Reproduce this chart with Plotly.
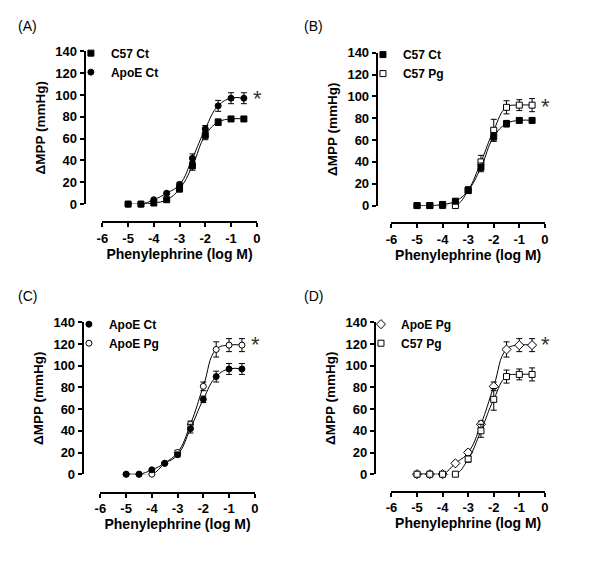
import plotly.graph_objects as go

# ---------------- data ----------------
log_conc = [-5, -4.5, -4, -3.5, -3, -2.5, -2, -1.5, -1, -0.5]

c57_ct = [0, 0, 1, 4, 14, 35, 63, 75, 78, 78]
c57_ct_err = [0, 0, 1, 1, 3, 4, 4, 3, 2, 2]

apoe_ct = [0, 0, 4, 10, 18, 42, 69, 90, 97, 97]
apoe_ct_err = [0, 0, 1, 1, 2, 4, 3, 5, 5, 5]

c57_pg = [0, 0, 0, 0, 14, 40, 69, 90, 92, 92]
c57_pg_err = [0, 0, 0, 0, 3, 6, 10, 6, 5, 6]

apoe_pg = [0, 0, 0, 10, 20, 46, 81, 115, 119, 119]
apoe_pg_err = [0, 0, 0, 1, 2, 3, 4, 7, 6, 6]

x_ticks = [-6, -5, -4, -3, -2, -1, 0]
y_ticks = [0, 20, 40, 60, 80, 100, 120, 140]

panel_labels = ["(A)", "(B)", "(C)", "(D)"]
x_title = "Phenylephrine (log M)"
y_title = "ΔMPP (mmHg)"

series = {
    "C57 Ct": (c57_ct, c57_ct_err),
    "ApoE Ct": (apoe_ct, apoe_ct_err),
    "C57 Pg": (c57_pg, c57_pg_err),
    "ApoE Pg": (apoe_pg, apoe_pg_err),
}
# (series name, marker symbol, filled?) in legend order
panel_series = [
    [("C57 Ct", "square", True), ("ApoE Ct", "circle", True)],
    [("C57 Ct", "square", True), ("C57 Pg", "square", False)],
    [("ApoE Ct", "circle", True), ("ApoE Pg", "circle", False)],
    [("ApoE Pg", "diamond", False), ("C57 Pg", "square", False)],
]
# which legend entry is drawn last (on top) in each panel
top_index = [0, 0, 0, 1]
star_y = [97, 91, 120, 120]

# ---------------- layout geometry (pixels) ----------------
W, H = 600, 562
FONT = "Arial, Liberation Sans, sans-serif"
# (y-axis line x, x-domain left, x-domain right, y=0 px, y=140 px, x-axis line y)
geom = [
    (80, 98, 255, 202.5, 45.5, 221),
    (377, 392, 548, 204, 47, 222),
    (78, 96, 253, 480, 324, 499),
    (375, 392, 548, 480, 324, 498),
]
label_pos = [(10, 20), (301, 20), (10, 297), (301, 297)]


def fx(px):
    return px / W


def fy(py):
    return 1 - py / H


fig = go.Figure()
layout = dict(
    width=W, height=H, autosize=False,
    margin=dict(l=0, r=0, t=0, b=0),
    paper_bgcolor="white", plot_bgcolor="white",
    showlegend=True, annotations=[],
)

for i, items in enumerate(panel_series):
    k = i + 1
    xa = "x" if k == 1 else f"x{k}"
    ya = "y" if k == 1 else f"y{k}"
    lg = "legend" if k == 1 else f"legend{k}"
    yl, xl, xr, y0, y140, xly = geom[i]

    order = [j for j in range(len(items)) if j != top_index[i]] + [top_index[i]]
    for j in order:
        name, sym, filled = items[j]
        vals, errs = series[name]
        fig.add_trace(go.Scatter(
            x=log_conc, y=vals, mode="lines",
            line=dict(color="black", width=1, shape="spline", smoothing=1.3),
            xaxis=xa, yaxis=ya, showlegend=False, cliponaxis=False,
            hoverinfo="skip",
        ))
        fig.add_trace(go.Scatter(
            x=log_conc, y=vals, mode="markers", name=name,
            marker=dict(symbol=sym, size=7 if sym == "diamond" else 6,
                        color="black" if filled else "white",
                        line=dict(color="black", width=1)),
            error_y=dict(type="data", array=errs, visible=True,
                         color="black", thickness=1, width=3),
            xaxis=xa, yaxis=ya, legend=lg, legendrank=1000 + j,
            cliponaxis=False,
        ))

    axis_common = dict(
        showline=True, linecolor="black", linewidth=2,
        ticks="outside", ticklen=4, tickwidth=2, tickcolor="black",
        showgrid=False, zeroline=False,
        tickfont=dict(family=FONT, size=13, color="black", weight="bold"),
        anchor="free",
    )
    layout[f"xaxis{'' if k == 1 else k}"] = dict(
        axis_common,
        domain=[fx(xl), fx(xr)], range=[-6, 0],
        tickvals=x_ticks, ticktext=[str(t) for t in x_ticks],
        position=fy(xly),
        title=dict(text=x_title, standoff=3,
                   font=dict(family=FONT, size=14, color="black", weight="bold")),
    )
    layout[f"yaxis{'' if k == 1 else k}"] = dict(
        axis_common,
        domain=[fy(y0), fy(y140)], range=[0, 140],
        tickvals=y_ticks,
        position=fx(yl),
        title=dict(text=y_title, standoff=6,
                   font=dict(family=FONT, size=13.5, color="black", weight="bold")),
    )
    layout[lg] = dict(
        x=fx(yl - 14), y=fy(y140 - 13), xanchor="left", yanchor="top",
        bgcolor="rgba(0,0,0,0)", borderwidth=0, tracegroupgap=0,
        traceorder="normal",
        font=dict(family=FONT, size=12, color="black", weight="bold"),
    )
    ymid = y0 + (y140 - y0) * star_y[i] / 140.0
    layout["annotations"].append(dict(
        x=fx(xr + 1), y=fy(ymid), xref="paper", yref="paper", text="*",
        showarrow=False, xanchor="center", yanchor="middle",
        font=dict(family=FONT, size=22, color="#333333"),
    ))
    lx, ly = label_pos[i]
    layout["annotations"].append(dict(
        x=fx(lx), y=fy(ly), xref="paper", yref="paper", text=panel_labels[i],
        showarrow=False, xanchor="left", yanchor="middle",
        font=dict(family=FONT, size=14, color="black"),
    ))

fig.update_layout(**layout)

fig.write_html("out.html", config={"displayModeBar": False},
               post_script="document.body.style.margin='0';")
